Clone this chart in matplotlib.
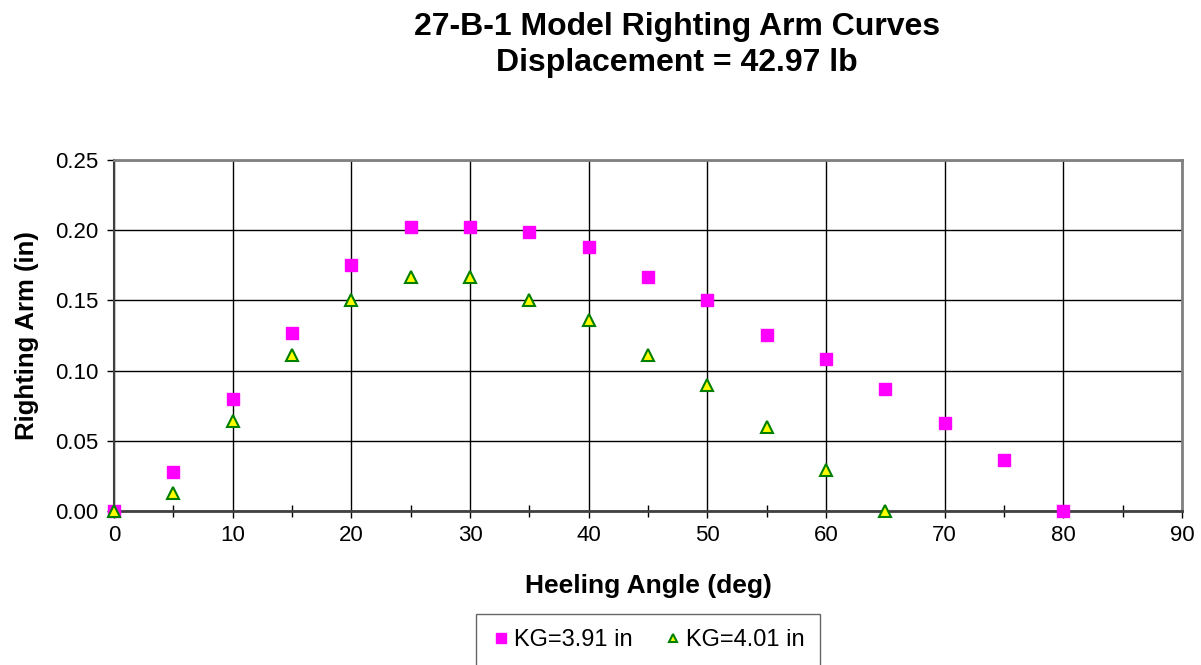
import numpy as np
import matplotlib
matplotlib.use('Agg')
import matplotlib.pyplot as plt
from matplotlib.ticker import MultipleLocator

plt.rcParams['font.family'] = ['Liberation Sans', 'DejaVu Sans']

# ── 데이터 ─────────────────────────────────────────────
angle_kg1 = [0, 5, 10, 15, 20, 25, 30, 35, 40, 45, 50, 55, 60, 65, 70, 75, 80]
arm_kg1 = [0.000, 0.028, 0.080, 0.127, 0.175, 0.202, 0.202, 0.199, 0.188,
           0.167, 0.150, 0.125, 0.108, 0.087, 0.063, 0.036, 0.000]

angle_kg2 = [0, 5, 10, 15, 20, 25, 30, 35, 40, 45, 50, 55, 60, 65]
arm_kg2 = [0.000, 0.013, 0.064, 0.111, 0.150, 0.167, 0.167, 0.150, 0.136,
           0.111, 0.090, 0.060, 0.029, 0.000]

label_kg1 = 'KG=3.91 in'
label_kg2 = 'KG=4.01 in'

fig = plt.figure(figsize=(12.01, 6.65), dpi=100)
ax = fig.add_axes([0.0949, 0.2316, 0.8893, 0.5278])

ax.plot(angle_kg1, arm_kg1, 's', color='#FF00FF', markersize=9,
        markeredgecolor='#FF00FF', label=label_kg1, zorder=4, clip_on=False)
ax.plot(angle_kg2, arm_kg2, '^', color='#FFFF00', markersize=8,
        markeredgecolor='#008000', markeredgewidth=1.5, label=label_kg2,
        zorder=5, clip_on=False)

ax.set_xlim(0, 90)
ax.set_ylim(0, 0.25)
ax.xaxis.set_major_locator(MultipleLocator(10))
ax.xaxis.set_minor_locator(MultipleLocator(5))
ax.yaxis.set_major_locator(MultipleLocator(0.05))
ax.yaxis.set_major_formatter(matplotlib.ticker.FormatStrFormatter('%.2f'))

ax.grid(which='major', color='black', linewidth=1.0, zorder=1)
ax.set_axisbelow(True)
ax.tick_params(axis='x', which='major', direction='out', length=5, width=1,
               labelsize=16, pad=5)
ax.tick_params(axis='x', which='minor', direction='inout', length=8, width=1)
ax.tick_params(axis='y', which='major', direction='out', length=5, width=1,
               labelsize=16, pad=6)

for side in ['top', 'right']:
    ax.spines[side].set_color('#808080')
    ax.spines[side].set_linewidth(2)
ax.spines['left'].set_color('#404040')
ax.spines['bottom'].set_color('#404040')
ax.spines['left'].set_linewidth(1.5)
ax.spines['bottom'].set_linewidth(2)

ax.set_xlabel('Heeling Angle (deg)', fontsize=19, fontweight='bold', labelpad=20)
ax.set_ylabel('Righting Arm (in)', fontsize=18.5, fontweight='bold', labelpad=12)

fig.text(0.5637, 0.96, '27-B-1 Model Righting Arm Curves', ha='center', va='center',
         fontsize=23, fontweight='bold')
fig.text(0.5637, 0.905, 'Displacement = 42.97 lb', ha='center', va='center',
         fontsize=23, fontweight='bold')

leg = fig.legend(loc='upper center', bbox_to_anchor=(0.5397, 0.095), ncol=2,
                 fontsize=17, frameon=True, fancybox=False, handlelength=0.8,
                 handletextpad=0.15, columnspacing=1.3, borderpad=0.65,
                 borderaxespad=0.5, markerscale=0.75)
leg.get_frame().set_edgecolor('#404040')
leg.get_frame().set_linewidth(1)

fig.savefig('out.png', dpi=100)
